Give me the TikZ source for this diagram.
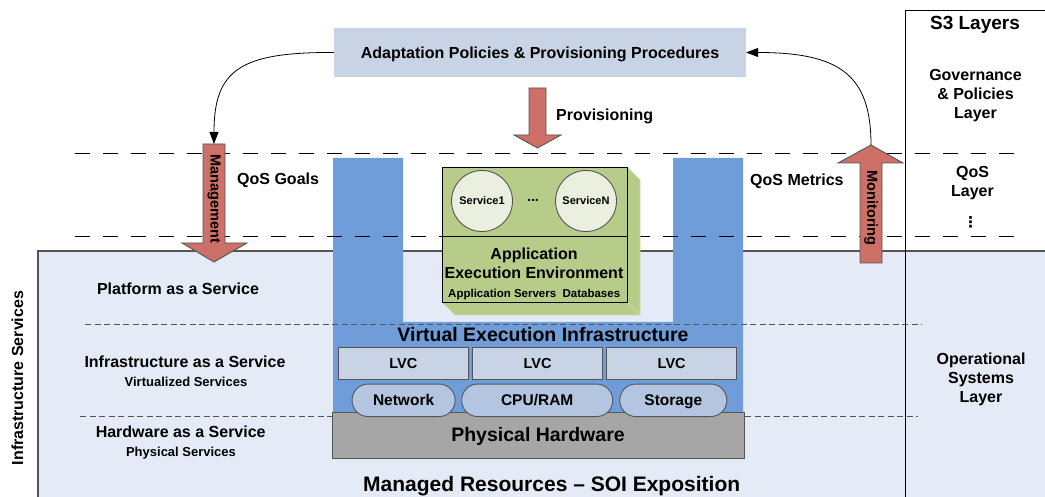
\documentclass[tikz,border=0pt]{standalone}
\usepackage{fontspec}
\setmainfont{Liberation Sans}
\newfontfamily\symbolfont{DejaVu Sans}
\usetikzlibrary{arrows.meta}
\definecolor{boxblue}{HTML}{C8D4E5}
\definecolor{regionblue}{HTML}{E5EBF6}
\definecolor{colblue}{HTML}{6F9DD9}
\definecolor{ovalblue}{HTML}{B3C5E0}
\definecolor{hwgray}{HTML}{A6A6A6}
\definecolor{appgreen}{HTML}{B8CC8A}
\definecolor{svcfill}{HTML}{EBEFDF}
\definecolor{arrowred}{HTML}{CC7068}
\definecolor{edgegray}{HTML}{555555}
\tikzset{
  txt/.style={font=\bfseries\fontsize{16}{19.3}\selectfont, inner sep=0pt, align=center},
  smalltxt/.style={font=\bfseries\fontsize{13}{15}\selectfont, inner sep=0pt},
  tinytxt/.style={font=\bfseries\fontsize{11.5}{13}\selectfont, inner sep=0pt},
  bigtxt/.style={font=\bfseries\fontsize{19.5}{23}\selectfont, inner sep=0pt},
  longdash/.style={draw=black, line width=0.9pt, dash pattern=on 15pt off 13pt},
  shortdash/.style={draw=edgegray, line width=0.8pt, dash pattern=on 6pt off 3.5pt},
  blockarrow/.style={fill=arrowred, draw=edgegray, line width=0.9pt},
  lvcbox/.style={draw=edgegray, line width=0.9pt, fill=boxblue, minimum width=130pt, minimum height=32pt, inner sep=0pt,
    font=\bfseries\fontsize{14.5}{17}\selectfont, text height=10.5pt, text depth=0pt},
  resoval/.style={draw=edgegray, line width=0.9pt, fill=ovalblue, rounded corners=16pt, minimum height=32.5pt, inner sep=0pt,
    font=\bfseries\fontsize{15.5}{18}\selectfont, text height=11.2pt, text depth=0pt},
  svc/.style={circle, draw=edgegray, line width=0.9pt, fill=svcfill, minimum size=61pt, inner sep=0pt},
  curvearrow/.style={draw=black, line width=0.8pt, -{Triangle[length=12pt,width=9pt]}}
}
\begin{document}
\begin{tikzpicture}[x=1pt,y=-1pt]
\useasboundingbox (0,0) rectangle (1045,497);

% light region of infrastructure services
\fill[regionblue] (38,251) rectangle (1045,497);
\draw[draw=edgegray, line width=1.2pt] (38,497) -- (38,251) -- (1045,251);

% S3 layers frame
\draw[black, line width=0.8pt] (905,497) -- (905,10) -- (1045,10);

% lower short dashed line (behind hardware)
\draw[shortdash] (80,416) -- (918,416);

% blue U shape
\fill[colblue] (333,158) -- (403,158) -- (403,322) -- (673,322) -- (673,158) -- (743,158)
  -- (743,412) -- (333,412) -- cycle;

\draw[shortdash] (85,324) -- (922,324);
\draw[longdash] (75,153) -- (1025,153);
\draw[longdash] (75,236) -- (1025,236);

% top box
\node[fill=boxblue, minimum width=412pt, minimum height=49pt, inner sep=0pt, txt, text depth=0pt]
  (policy) at (540,52.5) {Adaptation Policies \& Provisioning Procedures};

% Management arrow
\draw[blockarrow] (203,144) -- (225,144) -- (225,243) -- (247,243) -- (214,262) -- (182,243) -- (203,243) -- cycle;
\coordinate (mgmttop) at (214,144);
\node[txt, font=\bfseries\fontsize{14.5}{17}\selectfont, rotate=-90] (mgmtlabel) at (214,199) {Management};

% Monitoring arrow
\draw[blockarrow] (860,263) -- (882,263) -- (882,163) -- (903,163) -- (871,145) -- (838,163) -- (860,163) -- cycle;
\coordinate (montop) at (871,145);
\node[txt, font=\bfseries\fontsize{14.5}{17}\selectfont, rotate=-90] (monlabel) at (871,208) {Monitoring};

% Provisioning arrow
\draw[blockarrow] (529,88) -- (546,88) -- (546,135) -- (561,135) -- (537.5,148) -- (514,135) -- (529,135) -- cycle;
\node[txt, anchor=base west] (provlabel) at (556,120.7) {Provisioning};

% curved connectors
\draw[curvearrow] (policy.west) .. controls (240,52) and (214,70) .. (mgmttop);
\draw[curvearrow] (montop) .. controls (871,75) and (840,52.5) .. (policy.east);

% QoS labels
\node[txt, anchor=base west] (qosgoals) at (237,185) {QoS Goals};
\node[txt, anchor=base west] (qosmetrics) at (750,185.5) {QoS Metrics};

% S3 layer texts
\node[txt, font=\bfseries\fontsize{19}{22}\selectfont, anchor=base] (s3) at (975,29.3) {S3 Layers};
\node[txt] (gov) at (975.5,95.7) {Governance\\\& Policies\\Layer};
\node[txt] (qoslayer) at (972.5,183.2) {QoS\\Layer};
\node[inner sep=0pt, font=\symbolfont\bfseries\fontsize{15}{17}\selectfont] (dots) at (970.7,222.5) {⋮};
\node[txt] (oplayer) at (981,379.5) {Operational\\Systems\\Layer};

% left side texts
\node[txt, rotate=90] (infserv) at (17.5,378) {Infrastructure Services};
\node[txt, anchor=base] (paas) at (178,294.3) {Platform as a Service};
\node[txt, anchor=base] (iaas) at (185,367.7) {Infrastructure as a Service};
\node[smalltxt, anchor=base] (virt) at (186,386.7) {Virtualized Services};
\node[txt, anchor=base] (haas) at (180.7,437.3) {Hardware as a Service};
\node[smalltxt, anchor=base] (phys) at (181,456.7) {Physical Services};

% application execution environment (3D box)
\fill[appgreen] (442,167) -- (627,167) -- (640,180) -- (640,315) -- (455,315) -- (442,302) -- cycle;
\draw[appgreen!75!white, line width=0.7pt] (627,167) -- (640,180) -- (640,315) -- (455,315) -- (442,302);
\draw[appgreen!75!white, line width=0.7pt] (627,302) -- (640,315);
\draw[black, line width=0.9pt] (442,167) rectangle (627,302);
\draw[black, line width=0.9pt] (442,236) -- (627,236);
\node[svc, font=\bfseries\fontsize{11}{13}\selectfont] (svc1) at (482,201) {Service1};
\node[svc, font=\bfseries\fontsize{11}{13}\selectfont] (svcn) at (586,201) {ServiceN};
\node[txt, font=\bfseries\fontsize{14}{16}\selectfont] (ell) at (533,200) {...};
\node[txt] (aee) at (534,263.2) {Application\\Execution Environment};
\node[tinytxt, anchor=base] (appsrv) at (534.2,298) {Application Servers\ \ Databases};

% virtual execution infrastructure
\node[bigtxt, anchor=base] (vei) at (543,341.7) {Virtual Execution Infrastructure};
\node[lvcbox] (lvc1) at (403.3,363.3) {LVC};
\node[lvcbox] (lvc2) at (537.5,363.3) {LVC};
\node[lvcbox] (lvc3) at (671.7,363.3) {LVC};

% physical hardware
\node[draw=edgegray, line width=0.9pt, fill=hwgray, minimum width=412pt, minimum height=46pt, inner sep=0pt,
  bigtxt, text height=13.8pt, text depth=0pt] (hw) at (538,435) {Physical Hardware};

% resources
\node[resoval, minimum width=103pt] (net) at (403.6,400.3) {Network};
\node[resoval, minimum width=151pt] (cpu) at (537.2,400.3) {CPU/RAM};
\node[resoval, minimum width=107pt] (sto) at (673.3,400.3) {Storage};

% bottom caption
\node[txt, font=\bfseries\fontsize{21}{25}\selectfont, anchor=base] (managed) at (551.7,491.7) {Managed Resources -- SOI Exposition};
\end{tikzpicture}
\end{document}
